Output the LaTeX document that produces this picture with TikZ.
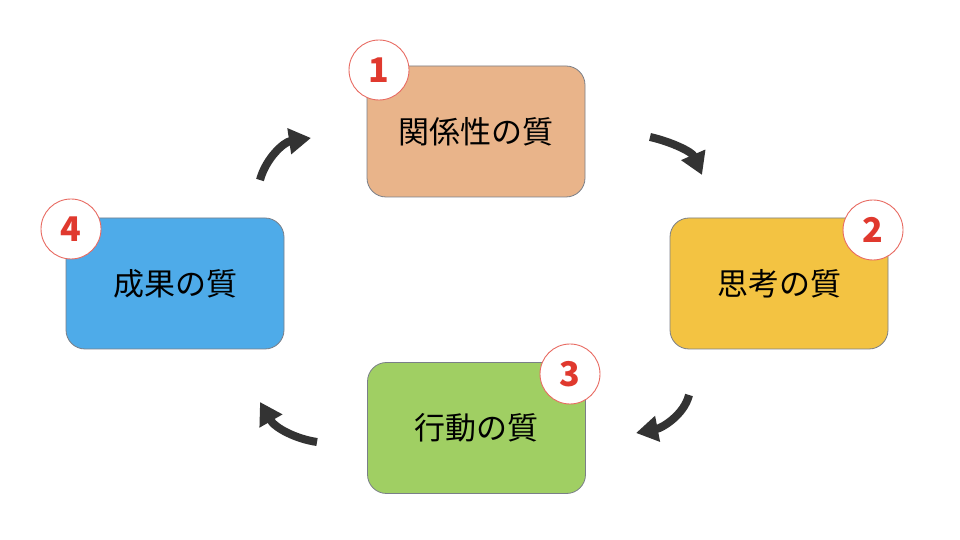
\documentclass[tikz,border=0pt]{standalone}
\usepackage{fontspec}
\newfontfamily\jp{Noto Sans CJK JP}
\usetikzlibrary{arrows.meta}
\definecolor{cA}{HTML}{E9B48A}
\definecolor{cB}{HTML}{F3C342}
\definecolor{cC}{HTML}{A0CF63}
\definecolor{cD}{HTML}{4EABE9}
\definecolor{edge}{HTML}{7A7F88}
\definecolor{numred}{HTML}{E0392E}
\definecolor{arr}{HTML}{333333}
\tikzset{
  qbox/.style={draw=edge, line width=0.8pt, rounded corners=19pt, minimum width=218pt, minimum height=131pt, inner sep=0pt, font=\jp\fontsize{31}{31}\selectfont, text=black},
  numc/.style={circle, draw=numred!75, line width=0.9pt, fill=white, minimum size=60pt, inner sep=0pt, font=\jp\bfseries\fontsize{34}{34}\selectfont, text=numred},
  cyc/.style={draw=arr, line width=8pt, -{Triangle[length=22pt,width=25pt]}}
}
\begin{document}
\begin{tikzpicture}[x=1pt,y=1pt]
\useasboundingbox (0,0) rectangle (960,540);
\fill[white] (0,0) rectangle (960,540);
\node[qbox, fill=cA] (b1) at (476,408.5) {関係性の質};
\node[qbox, fill=cB] (b2) at (779,256.5) {思考の質};
\node[qbox, fill=cC] (b3) at (476.5,112) {行動の質};
\node[qbox, fill=cD] (b4) at (175,256.5) {成果の質};
\node[numc] (n1) at (379,470) {1};
\node[numc] (n2) at (873,310) {2};
\node[numc] (n3) at (570,166) {3};
\node[numc] (n4) at (71,311) {4};
\coordinate (t1) at (650,403);
\coordinate (h1) at (702,365);
\coordinate (t2) at (689,145);
\coordinate (h2) at (636,107);
\coordinate (t3) at (317,98);
\coordinate (h3) at (260,138);
\coordinate (t4) at (260,360);
\coordinate (h4) at (311,402);
\draw[cyc] (t1) .. controls (672,398) and (692,388) .. (h1);
\draw[cyc] (t2) .. controls (684,125) and (662,112) .. (h2);
\draw[cyc] (t3) .. controls (296,101) and (275,112) .. (h3);
\draw[cyc] (t4) .. controls (266,382) and (284,398) .. (h4);
\end{tikzpicture}
\end{document}
